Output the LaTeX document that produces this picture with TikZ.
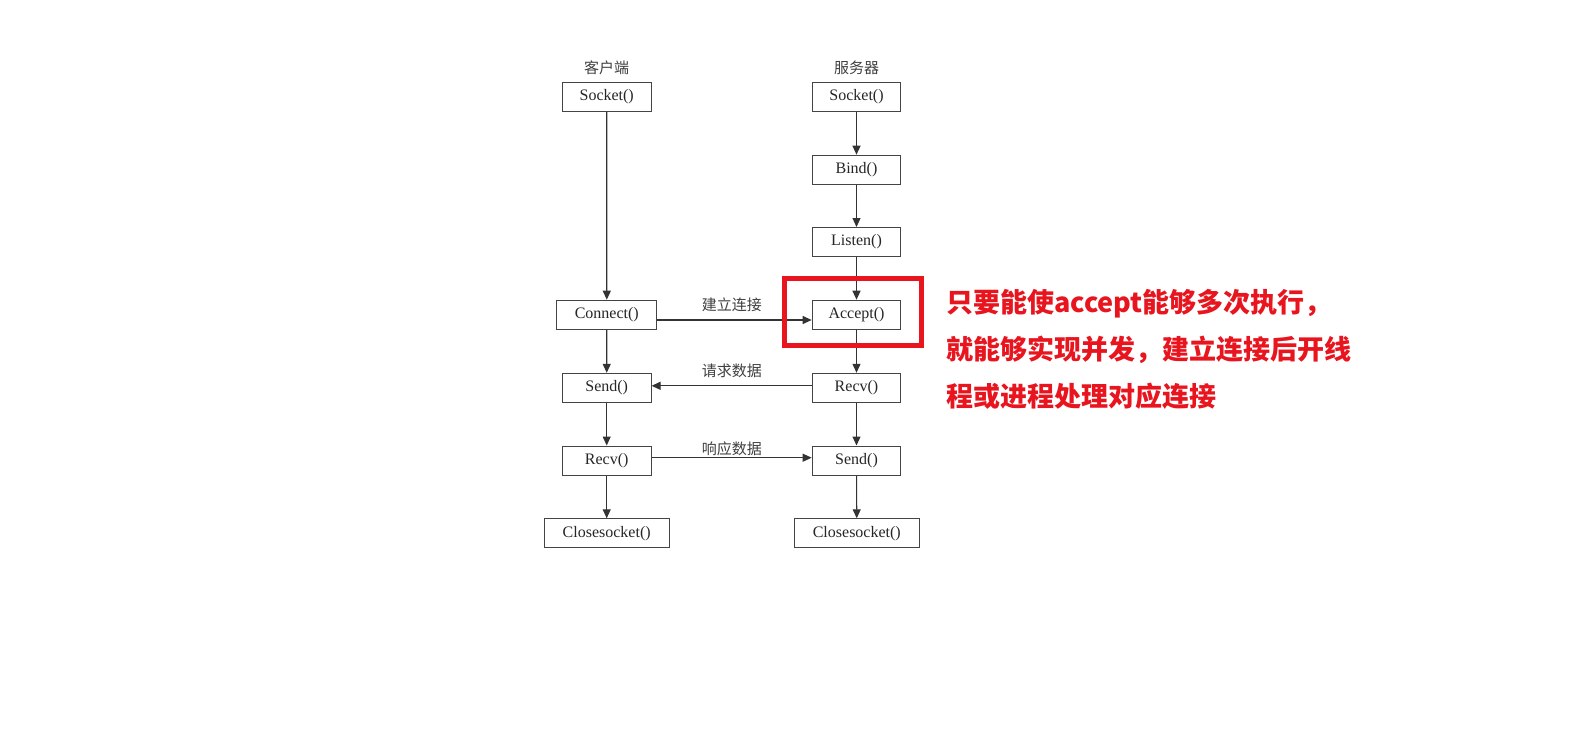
\documentclass[tikz,border=0pt]{standalone}
\usepackage{fontspec}
\setmainfont{Liberation Serif}
\newfontfamily\cjk{Noto Sans CJK SC}
\usetikzlibrary{arrows.meta}
\definecolor{linegray}{HTML}{333333}
\definecolor{boxgray}{HTML}{444444}
\definecolor{notered}{HTML}{E8151F}
\tikzset{
  fbox/.style={draw=boxgray, line width=1pt, fill=white, minimum width=88.7pt, minimum height=29pt, inner sep=0pt, font=\fontsize{16}{19}\selectfont, text=black!85},
  arr/.style={draw=linegray, line width=1.1pt, -{Triangle[length=9pt,width=8pt]}},
  cnlabel/.style={font=\cjk\fontsize{15}{18}\selectfont, text=black!75, inner sep=0pt},
  note/.style={font=\cjk\bfseries\fontsize{27}{30}\selectfont, text=notered, anchor=west, inner sep=0pt}
}
\begin{document}
\begin{tikzpicture}[x=1pt,y=-1pt]
\useasboundingbox[fill=white] (0,0) rectangle (1581,753);
% column titles
\node[cnlabel] (tc) at (606.7,68) {客户端};
\node[cnlabel] (ts) at (856.5,68) {服务器};
% client boxes
\node[fbox] (cs) at (606.7,96.8) {Socket()};
\node[fbox, minimum width=100.3pt] (connect) at (606.8,314.7) {Connect()};
\node[fbox] (csend) at (606.7,387.8) {Send()};
\node[fbox] (crecv) at (606.7,460.5) {Recv()};
\node[fbox, minimum width=125.3pt] (cclose) at (606.7,533.3) {Closesocket()};
% server boxes
\node[fbox] (ss) at (856.5,96.8) {Socket()};
\node[fbox] (bind) at (856.5,169.7) {Bind()};
\node[fbox] (listen) at (856.5,242) {Listen()};
\node[fbox] (accept) at (856.5,314.7) {Accept()};
\node[fbox] (srecv) at (856.5,387.8) {Recv()};
\node[fbox] (ssend) at (856.5,460.5) {Send()};
\node[fbox, minimum width=125pt] (sclose) at (856.8,533.3) {Closesocket()};
% vertical arrows
\draw[arr] (cs) -- (connect);
\draw[arr] (connect) -- (csend);
\draw[arr] (csend) -- (crecv);
\draw[arr] (crecv) -- (cclose);
\draw[arr] (ss) -- (bind);
\draw[arr] (bind) -- (listen);
\draw[arr] (listen) -- (accept);
\draw[arr] (accept) -- (srecv);
\draw[arr] (srecv) -- (ssend);
\draw[arr] (ssend) -- (sclose);
% horizontal arrows
\draw[arr] ([yshift=-5.3pt]connect.east) -- ([yshift=-5.3pt]accept.west);
\draw[arr] ([yshift=2pt]srecv.west) -- ([yshift=2pt]csend.east);
\draw[arr] ([yshift=2.8pt]crecv.east) -- ([yshift=2.8pt]ssend.west);
\node[cnlabel] (l1) at (731.8,305.2) {建立连接};
\node[cnlabel] (l2) at (731.8,371.2) {请求数据};
\node[cnlabel] (l3) at (731.8,448.8) {响应数据};
% highlight
\draw[notered, line width=5pt] (784,278.5) rectangle (921.8,345);
\node[note] (n1) at (946,304) {只要能使accept能够多次执行，};
\node[note] (n2) at (946,350) {就能够实现并发，建立连接后开线};
\node[note] (n3) at (946,396) {程或进程处理对应连接};
\end{tikzpicture}
\end{document}
